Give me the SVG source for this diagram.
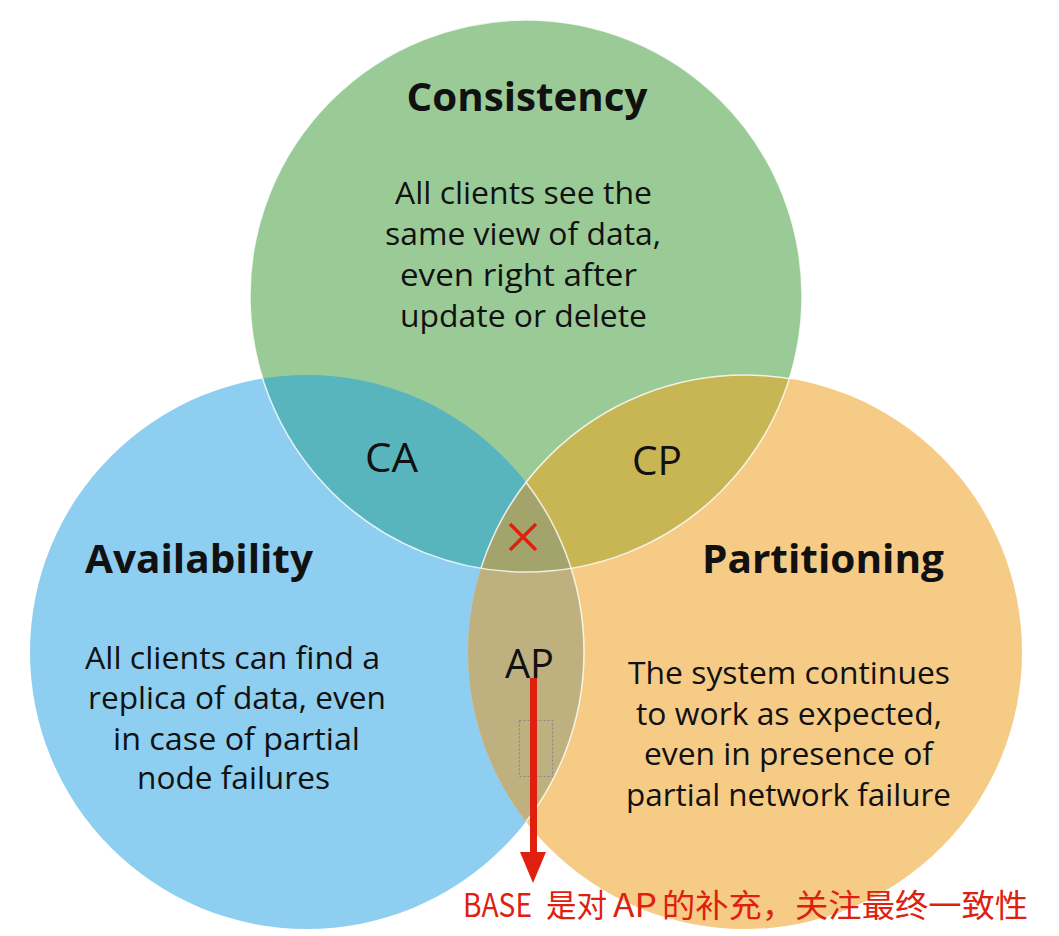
<svg xmlns="http://www.w3.org/2000/svg" width="1059" height="936" viewBox="0 0 1059 936">
<style>
.t{font-family:"Open Sans","Noto Sans",sans-serif;fill:#111;text-anchor:middle}
.h{font-weight:bold;font-size:39px}
.b{font-size:31px}
.l{font-size:40px}
.edge{fill:none;stroke:#fff;stroke-width:1.5;stroke-opacity:0.8}
.red{font-family:"Noto Sans CJK SC","Noto Sans",sans-serif;font-size:32px;fill:#E0200F}
</style>
<defs>
<clipPath id="cG"><circle cx="526" cy="296" r="276"/></clipPath>
<clipPath id="cB"><circle cx="307" cy="652" r="277"/></clipPath>
<clipPath id="cO"><circle cx="745" cy="652" r="277"/></clipPath>
</defs>
<rect width="1059" height="936" fill="#fff"/>
<g id="availability">
<circle cx="307" cy="652" r="277" fill="#8ECEF0"/>
</g>
<g id="partitioning">
<circle cx="745" cy="652" r="277" fill="#F6CB86"/>
</g>
<g id="consistency">
<circle cx="526" cy="296" r="276" fill="#9ACB97"/>
</g>
<g id="ca">
<circle cx="307" cy="652" r="277" fill="#58B5BE" clip-path="url(#cG)"/>
</g>
<g id="cp">
<circle cx="745" cy="652" r="277" fill="#C8B553" clip-path="url(#cG)"/>
</g>
<g id="ap">
<circle cx="745" cy="652" r="277" fill="#BEB17F" clip-path="url(#cB)"/>
</g>
<g id="center">
<g clip-path="url(#cG)"><circle cx="745" cy="652" r="277" fill="#A3A46C" clip-path="url(#cB)"/></g>
</g>
<g id="edges">
<circle class="edge" cx="526" cy="296" r="276"/>
<circle class="edge" cx="307" cy="652" r="277" clip-path="url(#cO)"/>
<circle class="edge" cx="745" cy="652" r="277" clip-path="url(#cG)"/>
</g>
<g id="labels">
<text class="t h" x="527" y="111" textLength="241" lengthAdjust="spacingAndGlyphs">Consistency</text>
<text class="t b" x="523.5" y="204" textLength="257" lengthAdjust="spacingAndGlyphs">All clients see the</text>
<text class="t b" x="523" y="245" textLength="276" lengthAdjust="spacingAndGlyphs">same view of data,</text>
<text class="t b" x="518.5" y="286" textLength="237" lengthAdjust="spacingAndGlyphs">even right after</text>
<text class="t b" x="523.5" y="327" textLength="247" lengthAdjust="spacingAndGlyphs">update or delete</text>
<text class="t h" x="199" y="573" textLength="228" lengthAdjust="spacingAndGlyphs">Availability</text>
<text class="t b" x="232.5" y="669" textLength="295" lengthAdjust="spacingAndGlyphs">All clients can find a</text>
<text class="t b" x="237" y="709" textLength="298" lengthAdjust="spacingAndGlyphs">replica of data, even</text>
<text class="t b" x="236.5" y="750" textLength="247" lengthAdjust="spacingAndGlyphs">in case of partial</text>
<text class="t b" x="233.5" y="789" textLength="193" lengthAdjust="spacingAndGlyphs">node failures</text>
<text class="t h" x="823" y="573" textLength="242" lengthAdjust="spacingAndGlyphs">Partitioning</text>
<text class="t b" x="789" y="684" textLength="322" lengthAdjust="spacingAndGlyphs">The system continues</text>
<text class="t b" x="789" y="725" textLength="306" lengthAdjust="spacingAndGlyphs">to work as expected,</text>
<text class="t b" x="788.5" y="765" textLength="289" lengthAdjust="spacingAndGlyphs">even in presence of</text>
<text class="t b" x="788.5" y="806" textLength="325" lengthAdjust="spacingAndGlyphs">partial network failure</text>
<text class="t l" x="391.5" y="472" textLength="53" lengthAdjust="spacingAndGlyphs">CA</text>
<text class="t l" x="657" y="475" textLength="50" lengthAdjust="spacingAndGlyphs">CP</text>
<text class="t l" x="529.5" y="678" textLength="49" lengthAdjust="spacingAndGlyphs">AP</text>
</g>
<g id="mark">
<path d="M510,524 L536,550 M536,524 L510,550" stroke="#E0200F" stroke-width="3.5" fill="none"/>
</g>
<g id="box">
<rect x="519.5" y="720.5" width="33" height="56" fill="none" stroke="#888" stroke-width="1.2" stroke-dasharray="2,2"/>
</g>
<g id="connectors">
<line x1="533.5" y1="678" x2="533.5" y2="853" stroke="#E0200F" stroke-width="7"/>
<path d="M520,852 L546,852 L533,883 Z" fill="#E0200F"/>
</g>
<g id="note">
<text class="red" y="917"><tspan x="463" textLength="69" lengthAdjust="spacingAndGlyphs">BASE</tspan><tspan x="546" textLength="61" lengthAdjust="spacingAndGlyphs">是对</tspan><tspan x="613" textLength="44" lengthAdjust="spacingAndGlyphs">AP</tspan><tspan x="662" textLength="366" lengthAdjust="spacingAndGlyphs">的补充，关注最终一致性</tspan></text>
</g>
</svg>
